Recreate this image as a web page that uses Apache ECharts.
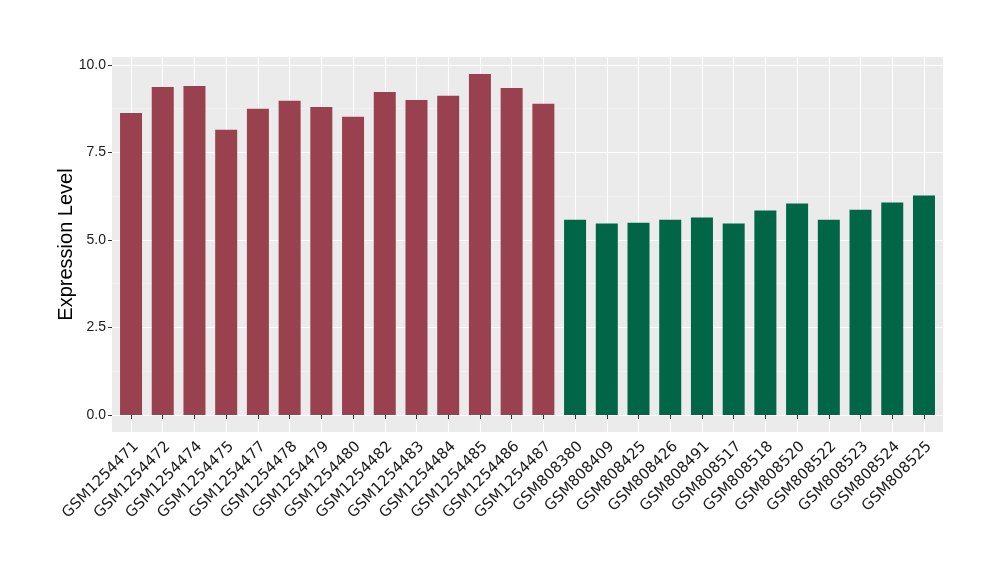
<!DOCTYPE html>
<html><head><meta charset="utf-8">
<script src="https://cdn.jsdelivr.net/npm/echarts@6/dist/echarts.min.js"></script>
<style>html,body{margin:0;padding:0;background:#fff}#c{width:1000px;height:580px}</style>
</head><body><div id="c"></div>
<script>
const groupA = ["GSM1254471","GSM1254472","GSM1254474","GSM1254475","GSM1254477","GSM1254478","GSM1254479","GSM1254480","GSM1254482","GSM1254483","GSM1254484","GSM1254485","GSM1254486","GSM1254487"];
const valuesA = [8.63,9.37,9.40,8.15,8.75,8.98,8.80,8.52,9.23,9.00,9.12,9.74,9.34,8.89];
const groupB = ["GSM808380","GSM808409","GSM808425","GSM808426","GSM808491","GSM808517","GSM808518","GSM808520","GSM808522","GSM808523","GSM808524","GSM808525"];
const valuesB = [5.58,5.47,5.49,5.58,5.64,5.47,5.84,6.04,5.58,5.86,6.07,6.27];
const yTicks = [0,2.5,5,7.5,10];
const yMinor = [1.25,3.75,6.25,8.75];

const categories = groupA.concat(groupB);
const positions = categories.map((c,i)=>i+1);
const dataA = valuesA.map((v,i)=>[i+1,v]);
const dataB = valuesB.map((v,i)=>[groupA.length+i+1,v]);
const allVals = valuesA.concat(valuesB);
const ymax = Math.max(...allVals);
const yLo = -0.05*ymax, yHi = ymax*1.05;

const font = "'Liberation Sans', Arial, sans-serif";
const chart = echarts.init(document.getElementById('c'), null, {renderer:'canvas'});
chart.setOption({
  animation:false,
  grid:{left:112,right:57,top:57,bottom:148,show:true,backgroundColor:'#EBEBEB',borderWidth:0},
  xAxis:{
    type:'value', min:0.4, max:categories.length+0.6,
    axisLine:{show:false},
    axisTick:{show:true,length:4,lineStyle:{color:'#333',width:1},customValues:positions},
    axisLabel:{customValues:positions,rotate:45,fontSize:15,color:'#1A1A1A',fontFamily:"'DejaVu Sans', sans-serif",margin:7,
      align:'right',verticalAlign:'top',
      formatter:v=>categories[Math.round(v)-1]||''},
    splitLine:{show:true,lineStyle:{color:'#fff',width:1.1}}
  },
  yAxis:[{
    type:'value', min:yLo, max:yHi,
    name:'Expression Level', nameLocation:'middle', nameGap:36, nameMoveOverlap:false,
    nameTextStyle:{fontSize:20,color:'#000',fontFamily:font},
    axisLine:{show:false},
    axisTick:{show:true,length:4,lineStyle:{color:'#333',width:1},customValues:yTicks},
    axisLabel:{customValues:yTicks,fontSize:14,color:'#1A1A1A',fontFamily:font,margin:6,
      formatter:v=>v.toFixed(1)},
    splitLine:{show:true,lineStyle:{color:'#fff',width:1.1}}
  },{
    type:'value', min:yLo, max:yHi,
    axisLine:{show:false},
    axisTick:{show:false,customValues:yMinor},
    axisLabel:{show:false,customValues:yMinor},
    splitLine:{show:true,lineStyle:{color:'#F5F5F5',width:0.6}}
  }],
  series:[
    {type:'bar',data:dataA,barWidth:22,barGap:'-100%',itemStyle:{color:'#9A4150'},yAxisIndex:0},
    {type:'bar',data:dataB,barWidth:22,barGap:'-100%',itemStyle:{color:'#006646'},yAxisIndex:0}
  ]
});
</script></body></html>
